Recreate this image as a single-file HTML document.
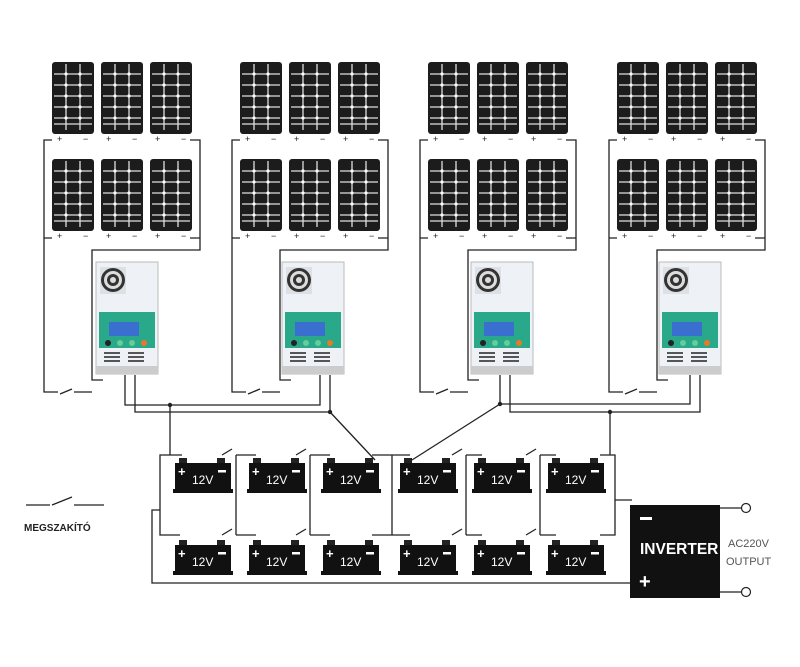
<!DOCTYPE html>
<html><head><meta charset="utf-8"><style>
html,body{margin:0;padding:0;background:#fff;}
svg{display:block;}
text{font-family:"Liberation Sans",sans-serif;}
</style></head><body>
<svg width="800" height="667" viewBox="0 0 800 667" xmlns="http://www.w3.org/2000/svg">
<defs>
<g id="panel">
<rect x="0" y="0" width="42" height="72" rx="3" fill="#1c1c1c"/>
<g stroke="#e0e0e0" stroke-width="1.3">
<line x1="14" y1="2" x2="14" y2="68"/><line x1="28" y1="2" x2="28" y2="68"/>
<line x1="2" y1="12" x2="40" y2="12"/><line x1="2" y1="23" x2="40" y2="23"/>
<line x1="2" y1="34" x2="40" y2="34"/><line x1="2" y1="45" x2="40" y2="45"/>
<line x1="2" y1="56" x2="40" y2="56"/><line x1="2" y1="62" x2="40" y2="62"/>
</g>
<g fill="#fff"><circle cx="14" cy="12" r="1.6"/><circle cx="28" cy="12" r="1.6"/><circle cx="14" cy="23" r="1.6"/><circle cx="28" cy="23" r="1.6"/><circle cx="14" cy="34" r="1.6"/><circle cx="28" cy="34" r="1.6"/><circle cx="14" cy="45" r="1.6"/><circle cx="28" cy="45" r="1.6"/><circle cx="14" cy="56" r="1.6"/><circle cx="28" cy="56" r="1.6"/></g>
</g>
<g id="row">
<use href="#panel" x="0" y="0"/><use href="#panel" x="49" y="0"/><use href="#panel" x="98" y="0"/>
<g font-size="9" fill="#222"><text x="5" y="80">+</text><text x="31" y="80">−</text><text x="54" y="80">+</text><text x="80" y="80">−</text><text x="103" y="80">+</text><text x="129" y="80">−</text></g>
</g>
<g id="ctrl">
<rect x="0" y="0" width="62" height="112" fill="#eef1f5" stroke="#bbb"/>
<rect x="4" y="5" width="26" height="27" fill="#dde0e4"/>
<circle cx="17" cy="18" r="12" fill="#333"/><circle cx="17" cy="18" r="9" fill="#ddd"/><circle cx="17" cy="18" r="6" fill="#333"/><circle cx="17" cy="18" r="3" fill="#ddd"/>
<rect x="3" y="50" width="56" height="36" fill="#2aa88a"/>
<rect x="13" y="60" width="30" height="14" fill="#3a6fd0"/>
<circle cx="12" cy="81" r="3" fill="#222"/><circle cx="24" cy="81" r="3" fill="#6c9"/><circle cx="36" cy="81" r="3" fill="#6c9"/><circle cx="48" cy="81" r="3" fill="#e77a2a"/>
<g stroke="#222" stroke-width="1.5"><line x1="8" y1="91" x2="24" y2="91"/><line x1="8" y1="95" x2="24" y2="95"/><line x1="8" y1="99" x2="24" y2="99"/><line x1="32" y1="91" x2="48" y2="91"/><line x1="32" y1="95" x2="48" y2="95"/><line x1="32" y1="99" x2="48" y2="99"/></g>
<rect x="0" y="104" width="62" height="8" fill="#ccc"/>
</g>
<g id="bat">
<rect x="6" y="0" width="8" height="6" fill="#222"/><rect x="44" y="0" width="8" height="6" fill="#222"/>
<rect x="2" y="5" width="56" height="27" fill="#111"/><rect x="0" y="31" width="60" height="4" fill="#111"/>
<text x="5" y="18" fill="#fff" font-size="13" font-weight="bold">+</text>
<rect x="45" y="12" width="8" height="2.5" fill="#fff"/>
<text x="19" y="26" fill="#fff" font-size="12">12V</text>
</g>
</defs>

<g fill="none" stroke="#222" stroke-width="1.3">
<g id="gw">
<path d="M52 140 H44 V392 H58 M72 389 L60 394 M74 392 H92 M52 238 H44 M190 140 H200 V238 H190 M200 238 V250 H92 V380 H103"/>
</g>
<use href="#gw" x="188"/><use href="#gw" x="376"/><use href="#gw" x="565"/>
<path d="M125 375 V405 H320 V375 M135 375 V412 H330 V375"/>
<path d="M170 405 V455 M330 412 L375 460"/>
<path d="M500 375 V404 H690 V375 M510 375 V412 H700 V375 M500 404 L412 460 M610 412 V455"/>
<path d="M170 455 H160 V535 H180 M170 455 H182"/>
<path d="M222 455 L232 449 M236 455 H256 M236 455 V535 M222 535 L232 529 M236 535 H256"/>
<path d="M296 455 L306 449 M310 455 H330 M310 455 V535 M296 535 L306 529 M310 535 H330"/>
<path d="M372 455 H392 V535 H372 M392 455 H410 M392 535 H410"/>
<path d="M452 455 L462 449 M466 455 H482 M466 455 V535 M452 535 L462 529 M466 535 H482"/>
<path d="M526 455 L536 449 M540 455 H556 M540 455 V535 M526 535 L536 529 M540 535 H556"/>
<path d="M600 455 H615 V535 H600 M615 535 V500 H632"/>
<path d="M160 510 H152 V583 H632"/>
<path d="M720 508 H742 M720 592 H742"/>
<path d="M26 505 H50 M52 505 L72 497 M74 505 H104"/>
</g>
<g fill="#fff" stroke="#222" stroke-width="1.2"><circle cx="746" cy="508" r="4.5"/><circle cx="746" cy="592" r="4.5"/></g>
<g fill="#222"><circle cx="170" cy="405" r="2.2"/><circle cx="330" cy="412" r="2.2"/><circle cx="500" cy="404" r="2.2"/><circle cx="610" cy="412" r="2.2"/></g>

<g id="grp"><use href="#row" x="52" y="62"/><use href="#row" x="52" y="159"/></g>
<use href="#grp" x="188"/><use href="#grp" x="376"/><use href="#grp" x="565"/>

<use href="#ctrl" x="96" y="262"/><use href="#ctrl" x="282" y="262"/><use href="#ctrl" x="471" y="262"/><use href="#ctrl" x="659" y="262"/>

<use href="#bat" x="173" y="458"/><use href="#bat" x="247" y="458"/><use href="#bat" x="321" y="458"/><use href="#bat" x="398" y="458"/><use href="#bat" x="472" y="458"/><use href="#bat" x="546" y="458"/>
<use href="#bat" x="173" y="540"/><use href="#bat" x="247" y="540"/><use href="#bat" x="321" y="540"/><use href="#bat" x="398" y="540"/><use href="#bat" x="472" y="540"/><use href="#bat" x="546" y="540"/>

<rect x="630" y="505" width="90" height="93" fill="#111"/>
<rect x="640" y="517" width="12" height="3" fill="#fff"/>
<text x="640" y="554" fill="#fff" font-size="15.5" font-weight="bold">INVERTER</text>
<text x="639" y="588" fill="#fff" font-size="20" font-weight="bold">+</text>
<text x="728" y="547" fill="#555" font-size="11">AC220V</text>
<text x="726" y="565" fill="#555" font-size="11">OUTPUT</text>
<text x="24" y="531" fill="#222" font-size="10" font-weight="bold">MEGSZAKÍTÓ</text>
</svg>
</body></html>
